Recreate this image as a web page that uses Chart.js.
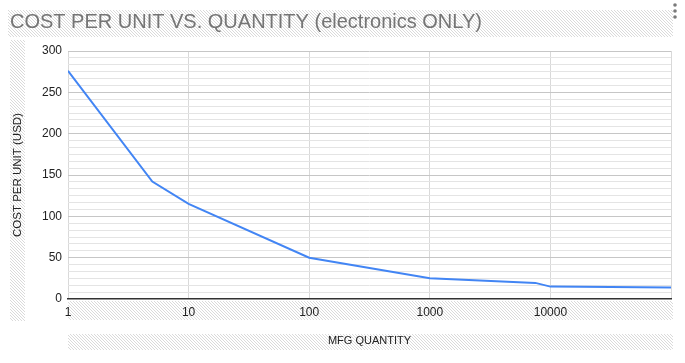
<!DOCTYPE html>
<html>
<head>
<meta charset="utf-8">
<script src="https://cdn.jsdelivr.net/npm/chart.js@4.4.0/dist/chart.umd.min.js"></script>
<style>
html,body{margin:0;padding:0;background:#fff;}
#wrap{width:685px;height:363px;}
</style>
</head>
<body>
<div id="wrap"><canvas id="costChart" width="685" height="363"></canvas></div>
<script>
// data
const quantities=[1,5,10,100,1000,7500,10000,100000];
const costPerUnit=[276,142,115,50,25,19.5,15,14];
const xTicks=[1,10,100,1000,10000,100000];
const yTickLabels=[0,50,100,150,200,250,300];
const minorPerMajor=6;

// y gridlines: labelled every 50, 5 light lines in between
let yGrid=[];
for(let i=0;i<yTickLabels.length;i++){
    yGrid.push(yTickLabels[i]);
    if(i<yTickLabels.length-1){
        let step=(yTickLabels[i+1]-yTickLabels[i])/minorPerMajor;
        for(let j=1;j<minorPerMajor;j++){
            yGrid.push(yTickLabels[i]+step*j);
        }
    }
}
function isMajor(v){
    return yTickLabels.some(t=>Math.abs(t-v)<1e-6);
}

Chart.defaults.font.family="'Liberation Sans', Arial, sans-serif";

// the grey hatching google sheets puts behind titles and labels + the menu dots
const hatchPlugin={
    id:"hatch",
    beforeDraw(chart){
        const ctx=chart.ctx;
        const a=chart.chartArea;
        const boxes=[
            [8,10,a.right-6,27],
            [10,a.top-11,15,a.bottom-a.top+33],
            [a.left,a.bottom+2,a.right-a.left+2,19],
            [a.left,334,a.right-a.left+2,16]
        ];
        ctx.save();
        ctx.strokeStyle="#dadada";
        ctx.lineWidth=1;
        boxes.forEach(b=>{
            ctx.save();
            ctx.beginPath();
            ctx.rect(b[0],b[1],b[2],b[3]);
            ctx.clip();
            ctx.beginPath();
            for(let k=b[0]-b[3];k<b[0]+b[2];k+=3){
                ctx.moveTo(k,b[1]);
                ctx.lineTo(k+b[3],b[1]+b[3]);
            }
            ctx.stroke();
            ctx.restore();
        });
        ctx.fillStyle="#7a7a7a";
        [5,11,17].forEach(y=>{
            ctx.beginPath();
            ctx.arc(675,y,1.8,0,Math.PI*2);
            ctx.fill();
        });
        ctx.restore();
    }
};

let costChart=new Chart("costChart",{
    type:"line",
    data:{
        datasets:[{
            data:quantities.map((q,i)=>({x:q,y:costPerUnit[i]})),
            borderColor:"#4285F4",
            borderWidth:2,
            pointRadius:0,
            tension:0,
            fill:false
        }]
    },
    options:{
        responsive:false,
        animation:false,
        devicePixelRatio:1,
        layout:{padding:{left:10,right:14,top:0,bottom:0}},
        plugins:{
            legend:{display:false},
            tooltip:{enabled:false},
            title:{
                display:true,
                text:"COST PER UNIT VS. QUANTITY (electronics ONLY)",
                align:"start",
                color:"#757575",
                font:{size:20,weight:"normal"},
                padding:{top:10,bottom:17}
            }
        },
        scales:{
            x:{
                type:"logarithmic",
                min:1,
                max:100000,
                afterBuildTicks(scale){
                    scale.ticks=xTicks.map(v=>({value:v}));
                },
                afterFit(scale){
                    scale.height=64;
                },
                grid:{color:"#d9d9d9",drawTicks:false},
                border:{color:"#333333",width:1.5},
                ticks:{
                    color:"#222222",
                    font:{size:12},
                    padding:6,
                    autoSkip:false,
                    maxRotation:0,
                    callback(v){
                        return v===100000?"":String(v);
                    }
                },
                title:{
                    display:true,
                    text:"MFG QUANTITY",
                    color:"#222222",
                    font:{size:11},
                    padding:{top:0,bottom:15}
                }
            },
            y:{
                min:0,
                max:300,
                afterBuildTicks(scale){
                    scale.ticks=yGrid.map(v=>({value:v}));
                },
                afterFit(scale){
                    scale.width=58;
                },
                grid:{
                    drawTicks:false,
                    color(c){
                        if(c.tick.value===0) return "rgba(0,0,0,0)";
                        return isMajor(c.tick.value)?"#c6c6c6":"#e4e4e4";
                    }
                },
                border:{display:false},
                ticks:{
                    color:"#222222",
                    font:{size:12},
                    padding:6,
                    autoSkip:false,
                    callback(v){
                        return isMajor(v)?String(Math.round(v)):"";
                    }
                },
                title:{
                    display:true,
                    text:"COST PER UNIT (USD)",
                    color:"#222222",
                    font:{size:11.5},
                    padding:{top:1,bottom:0}
                }
            }
        }
    },
    plugins:[hatchPlugin]
});
</script>
</body>
</html>
